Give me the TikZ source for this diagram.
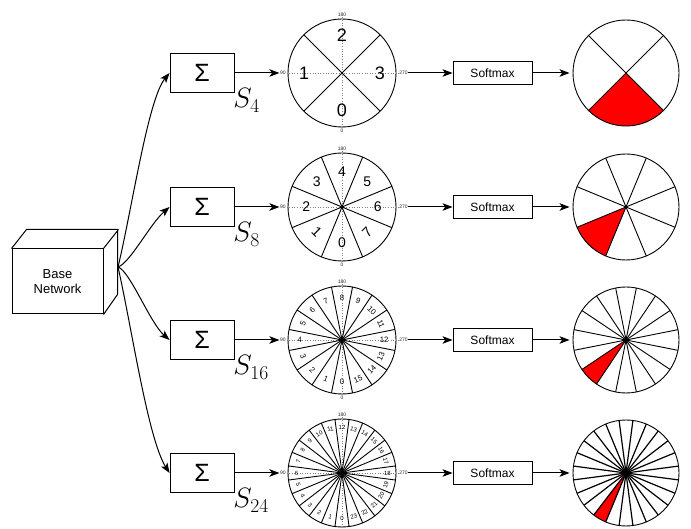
\RequirePackage{fix-cm}
\documentclass[tikz,border=0pt]{standalone}
\usepackage{fontspec}
\setmainfont{Liberation Sans}
\usetikzlibrary{arrows.meta}
\begin{document}
\begin{tikzpicture}[x=1pt,y=1pt,line width=0.9pt,
  arr/.style={-{Stealth[length=10pt,width=7.5pt,inset=2.5pt]},line width=1pt},
  sigbox/.style={draw,minimum width=64pt,minimum height=39pt,inner sep=0pt,font=\fontsize{25}{25}\selectfont},
  smbox/.style={draw,minimum width=79pt,minimum height=23pt,inner sep=0pt,font=\fontsize{12}{12}\selectfont},
  slab/.style={anchor=base west,inner sep=0pt,font=\fontsize{28}{30}\selectfont},
  tinylab/.style={inner sep=0.3pt,font=\fontsize{5}{5}\selectfont,text=black!85},
  dial/.style={draw,circle,inner sep=0pt,line width=0.9pt},
  guide/.style={gray,dotted,line width=0.6pt}]
\useasboundingbox (0,0) rectangle (691,529);
% base network cube
\node[draw,minimum width=91pt,minimum height=65pt,inner sep=0pt,align=center,
      font=\fontsize{13}{15}\selectfont,line width=1pt] (base) at (57.5,247.5) {Base\\Network};
\draw[line width=1pt,line join=round] (base.north west) -- ++(15,19) -- ++(91,0) -- ++(0,-65) -- (base.south east)
      (base.north east) -- ++(15,19);
\coordinate (src) at (118,262);
\foreach \Y/\N/\fs/\fr/\rk/\up/\lw [count=\row] in
  {456/4/18/0.70/0/1/0.9, 322/8/14/0.66/1/0/0.9, 189/16/7.8/0.78/2/1/0.9, 56/24/6/0.84/2/1/1.2}{
  \pgfmathtruncatemacro\nn{\N}
  \pgfmathtruncatemacro\nm{\N-1}
  \pgfmathtruncatemacro\half{\N/2}
  \node[sigbox] (sig\row) at (202,\Y) {Σ};
  \node[slab] (s\row) at (233,\Y-35) {$S_{\nn}$};
  % left dial
  \node[dial,minimum size=108pt] (c\row) at (342,\Y) {};
  \node[tinylab,anchor=east] (la\row) at (286.5,\Y) {90};
  \node[tinylab,anchor=west] (lb\row) at (398.5,\Y) {270};
  \node[tinylab,anchor=south] (lc\row) at (342,\Y+55.5) {180};
  \ifnum\row<4
    \node[tinylab,anchor=north] (ld\row) at (342,\Y-55.5) {0};
  \else
    \coordinate (ld\row) at (342,\Y-54);
  \fi
  \draw[guide] (la\row.east) -- (lb\row.west) (lc\row.south) -- (ld\row.north);
  \foreach \j in {1,...,\half}{
    \pgfmathsetmacro\p{270+180/\N+\j*360/\N}
    \draw ({342+54*cos(\p)},{\Y+54*sin(\p)}) -- ({342-54*cos(\p)},{\Y-54*sin(\p)});
  }
  \foreach \k in {0,...,\nm}{
    \pgfmathsetmacro\ang{270-\k*360/\N}
    \pgfmathsetmacro\rrr{\ang-90}
    \pgfmathsetmacro\rrr{\rrr>90 ? \rrr-180 : (\rrr<=-90 ? \rrr+180 : \rrr)}
    \pgfmathsetmacro\card{abs(mod(\ang,90))<0.01 ? 1 : 0}
    \pgfmathsetmacro\rot{\card==1 ? 0 : ((\up==0) ? ((\ang>0) ? ((\ang<180) ? 0 : \rrr) : \rrr) : \rrr)}
    \node[rotate=\rot,inner sep=0pt,font=\fontsize{\fs}{\fs}\selectfont] (d\row-\k)
      at ({342+\fr*54*cos(\ang)},{\Y+\fr*54*sin(\ang)}) {\k};
  }
  % softmax
  \node[smbox] (sm\row) at (492.5,\Y) {Softmax};
  \draw[arr] (sig\row.east) -- (la\row.west);
  \draw[arr] (lb\row.east) -- (sm\row.west);
  % right dial
  \pgfmathsetmacro\ra{270-\rk*360/\N-180/\N}
  \pgfmathsetmacro\rb{\ra+360/\N}
  \fill[red] (626,\Y) -- ({626+53*cos(\ra)},{\Y+53*sin(\ra)}) arc[start angle=\ra,end angle=\rb,radius=53pt] -- cycle;
  \node[dial,minimum size=106pt] (r\row) at (626,\Y) {};
  \foreach \j in {1,...,\half}{
    \pgfmathsetmacro\p{270+180/\N+\j*360/\N}
    \draw[line width=\lw pt] ({626+53*cos(\p)},{\Y+53*sin(\p)}) -- ({626-53*cos(\p)},{\Y-53*sin(\p)});
  }
  \draw[arr,shorten >=3pt] (sm\row.east) -- (r\row.west);
}
\draw[arr] (src) .. controls (132,320) and (148,430) .. (sig1.west);
\draw[arr] (src) .. controls (130,266) and (150,305) .. (sig2.west);
\draw[arr] (src) .. controls (130,258) and (150,206) .. (sig3.west);
\draw[arr] (src) .. controls (132,200) and (148,90) .. (sig4.west);
\end{tikzpicture}
\end{document}
